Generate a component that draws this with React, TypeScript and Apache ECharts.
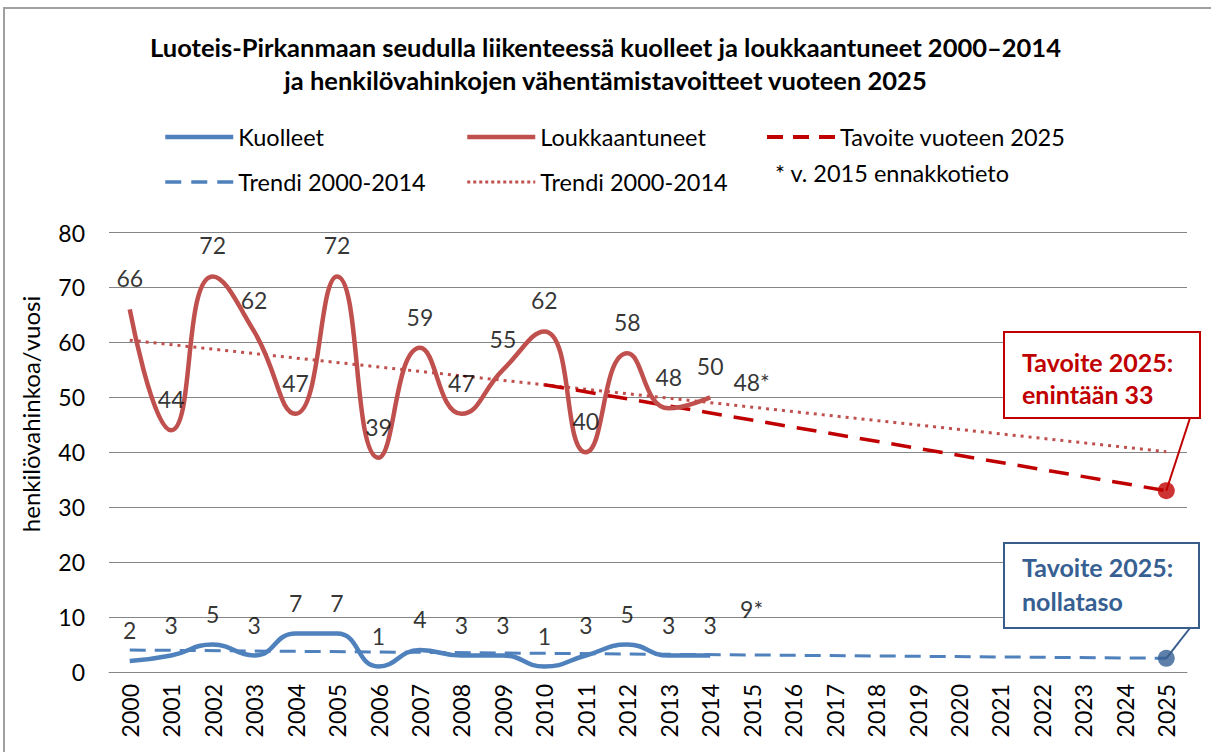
import React, { useEffect, useRef } from "react";
import * as echarts from "echarts";

const years = ["2000","2001","2002","2003","2004","2005","2006","2007","2008","2009","2010","2011","2012","2013","2014","2015","2016","2017","2018","2019","2020","2021","2022","2023","2024","2025"];
const injured = [66, 44, 72, 62, 47, 72, 39, 59, 47, 55, 62, 40, 58, 48, 50];
const deaths = [2, 3, 5, 3, 7, 7, 1, 4, 3, 3, 1, 3, 5, 3, 3];
const prelimYear = "2015";
const injuredPrelim = 48;
const deathsPrelim = 9;
const injuredTrendEnds = [60.4, 40.1];
const deathsTrendEnds = [4.0, 2.5];
const targetStartYear = "2010";
const targetEndYear = "2025";
const injuredTargetLine = [52.3, 33];
const deathsTarget2025 = 2.5;

const FONT = "Lato";
const RED = "#C0504D";
const BLUE = "#4F81BD";
const DARKRED = "#C00000";
const DARKBLUE = "#385D8A";

const full = (arr: number[]) => years.map((_, i) => (i < arr.length ? arr[i] : null));
const ends = (pair: number[]) => years.map((_, i) => (i === 0 ? pair[0] : i === years.length - 1 ? pair[1] : null));
const at = (year: string, v: number) => years.map((y) => (y === year ? v : null));
const two = (y1: string, v1: number, y2: string, v2: number) =>
  years.map((y) => (y === y1 ? v1 : y === y2 ? v2 : null));

const blueDash = [16, 9];
const redDot = [3, 5];
const targetDash = [20, 12];
const legendDash = [16, 10];

export default function App() {
  const ref = useRef<HTMLDivElement>(null);
  useEffect(() => {
    if (!ref.current) return;
    const chart = echarts.init(ref.current, undefined, { renderer: "svg" });
    const labelStyle = { fontFamily: FONT, fontSize: 23, color: "#000" };
    const legendBase = {
      top: 124, orient: "vertical", padding: 0,
      itemWidth: 68, itemHeight: 14, itemGap: 19, selectedMode: false,
      itemStyle: { opacity: 0 },
      textStyle: { fontFamily: FONT, fontSize: 23.5, lineHeight: 26, color: "#000" },
    };
    const option: any = {
      animation: false,
      backgroundColor: "#fff",
      title: {
        text: "Luoteis-Pirkanmaan seudulla liikenteessä kuolleet ja loukkaantuneet 2000–2014\nja henkilövahinkojen vähentämistavoitteet vuoteen 2025",
        left: "center",
        top: 30,
        padding: 0,
        textStyle: { fontFamily: FONT, fontWeight: "bold", fontSize: 25.5, lineHeight: 33, color: "#000" },
      },
      legend: [
        {
          ...legendBase, left: 163,
          data: [
            { name: "Kuolleet", itemStyle: { opacity: 0 }, lineStyle: { width: 4.5, type: "solid" } },
            { name: "Trendi 2000-2014", itemStyle: { opacity: 0 }, lineStyle: { width: 3.5, type: legendDash } },
          ],
        },
        {
          ...legendBase, left: 465,
          data: [
            { name: "Loukkaantuneet", itemStyle: { opacity: 0 }, lineStyle: { width: 4.5, type: "solid" } },
            { name: "Trendi 2000-2014 ", itemStyle: { opacity: 0 }, lineStyle: { width: 3, type: [3, 3] } },
          ],
        },
        {
          ...legendBase, left: 765,
          data: [
            { name: "Tavoite vuoteen 2025", itemStyle: { opacity: 0 }, lineStyle: { width: 4, type: legendDash } },
          ],
        },
      ],
      grid: { left: 109, right: 24, top: 232.5, bottom: 80, containLabel: false },
      xAxis: {
        type: "category",
        data: years,
        boundaryGap: true,
        axisTick: { show: false },
        axisLine: { lineStyle: { color: "#868686", width: 1 } },
        axisLabel: { rotate: 90, interval: 0, margin: 12, fontFamily: FONT, fontSize: 23, color: "#000" },
      },
      yAxis: {
        type: "value",
        min: 0, max: 80, interval: 10,
        axisLine: { show: false },
        axisTick: { show: false },
        splitLine: { lineStyle: { color: "#868686", width: 1 } },
        axisLabel: { margin: 24, fontFamily: FONT, fontSize: 23, color: "#000" },
      },
      series: [
        {
          name: "Trendi 2000-2014", type: "line", data: ends(deathsTrendEnds), connectNulls: true,
          symbol: "none", color: BLUE, lineStyle: { color: BLUE, width: 3, type: blueDash }, z: 2,
        },
        {
          name: "Trendi 2000-2014 ", type: "line", data: ends(injuredTrendEnds), connectNulls: true,
          symbol: "none", color: RED, lineStyle: { color: RED, width: 3, type: redDot }, z: 2,
        },
        {
          name: "Tavoite vuoteen 2025", type: "line",
          data: two(targetStartYear, injuredTargetLine[0], targetEndYear, injuredTargetLine[1]),
          connectNulls: true, symbol: "none", color: DARKRED,
          lineStyle: { color: DARKRED, width: 3.5, type: targetDash }, z: 3,
        },
        {
          name: "Kuolleet", type: "line", data: full(deaths), smooth: 0.5, symbol: "none",
          color: BLUE, lineStyle: { color: BLUE, width: 4.5 }, z: 4,
        },
        {
          name: "Loukkaantuneet", type: "line", data: full(injured), smooth: 0.5, symbol: "none",
          color: RED, lineStyle: { color: RED, width: 4.5 }, z: 4,
        },
        {
          name: "injuredLabels", type: "scatter", data: full(injured), symbolSize: 1,
          itemStyle: { color: "rgba(0,0,0,0)" },
          label: { show: true, position: "top", distance: 19, ...labelStyle }, z: 5,
        },
        {
          name: "deathsLabels", type: "scatter", data: full(deaths), symbolSize: 1,
          itemStyle: { color: "rgba(0,0,0,0)" },
          label: { show: true, position: "top", distance: 19, ...labelStyle }, z: 5,
        },
        {
          name: "injuredPrelim", type: "scatter", data: at(prelimYear, injuredPrelim), symbolSize: 1,
          itemStyle: { color: "rgba(0,0,0,0)" },
          label: { show: true, position: "top", distance: 14, formatter: (p: any) => p.value + "*", ...labelStyle }, z: 5,
        },
        {
          name: "deathsPrelim", type: "scatter", data: at(prelimYear, deathsPrelim), symbolSize: 1,
          itemStyle: { color: "rgba(0,0,0,0)" },
          label: { show: true, position: "top", distance: 2, formatter: (p: any) => p.value + "*", ...labelStyle }, z: 5,
        },
        {
          name: "injuredTarget", type: "scatter", data: at(targetEndYear, injuredTargetLine[1]),
          symbolSize: 17, itemStyle: { color: DARKRED }, z: 6,
        },
        {
          name: "deathsTarget", type: "scatter", data: at(targetEndYear, deathsTarget2025),
          symbolSize: 17, itemStyle: { color: "#365F93" }, z: 6,
        },
      ],
    };
    chart.setOption(option);

    const redPt = chart.convertToPixel({ xAxisIndex: 0, yAxisIndex: 0 }, [targetEndYear, injuredTargetLine[1]]) as number[];
    const bluePt = chart.convertToPixel({ xAxisIndex: 0, yAxisIndex: 0 }, [targetEndYear, deathsTarget2025]) as number[];

    const calloutText = { fontFamily: FONT, fontSize: 25, fontWeight: "bold" };
    chart.setOption({
      graphic: [
        { type: "rect", z: 0, shape: { x: 4, y: 8, width: 1220, height: 770 }, style: { fill: "none", stroke: "#a0a0a0", lineWidth: 2 }, silent: true },
        { type: "text", x: 30, y: 414, rotation: Math.PI / 2, style: { text: "henkilövahinkoa/vuosi", fontFamily: FONT, fontSize: 24, fill: "#000", align: "center", verticalAlign: "middle" } },
        { type: "text", x: 775, y: 173, style: { text: "* v. 2015 ennakkotieto", fontFamily: FONT, fontSize: 23.5, fill: "#000", verticalAlign: "middle" } },
        { type: "line", z: 10, shape: { x1: 1190, y1: 418, x2: redPt[0], y2: redPt[1] }, style: { stroke: DARKRED, lineWidth: 2 } },
        { type: "rect", z: 10, shape: { x: 1004, y: 332, width: 196, height: 86 }, style: { fill: "#fff", stroke: DARKRED, lineWidth: 2 } },
        { type: "text", z: 11, x: 1022, y: 362, style: { text: "Tavoite 2025:", fill: DARKRED, verticalAlign: "middle", ...calloutText } },
        { type: "text", z: 11, x: 1022, y: 394, style: { text: "enintään 33", fill: DARKRED, verticalAlign: "middle", ...calloutText } },
        { type: "line", z: 10, shape: { x1: 1190, y1: 628, x2: bluePt[0], y2: bluePt[1] }, style: { stroke: DARKBLUE, lineWidth: 2 } },
        { type: "rect", z: 10, shape: { x: 1004, y: 543, width: 195, height: 85 }, style: { fill: "#fff", stroke: DARKBLUE, lineWidth: 2 } },
        { type: "text", z: 11, x: 1022, y: 567, style: { text: "Tavoite 2025:", fill: "#376092", verticalAlign: "middle", ...calloutText } },
        { type: "text", z: 11, x: 1022, y: 601, style: { text: "nollataso", fill: "#376092", verticalAlign: "middle", ...calloutText } },
      ],
    });
    return () => chart.dispose();
  }, []);
  return <div ref={ref} style={{ position: "fixed", left: 0, top: 0, width: 1211, height: 752 }} />;
}
